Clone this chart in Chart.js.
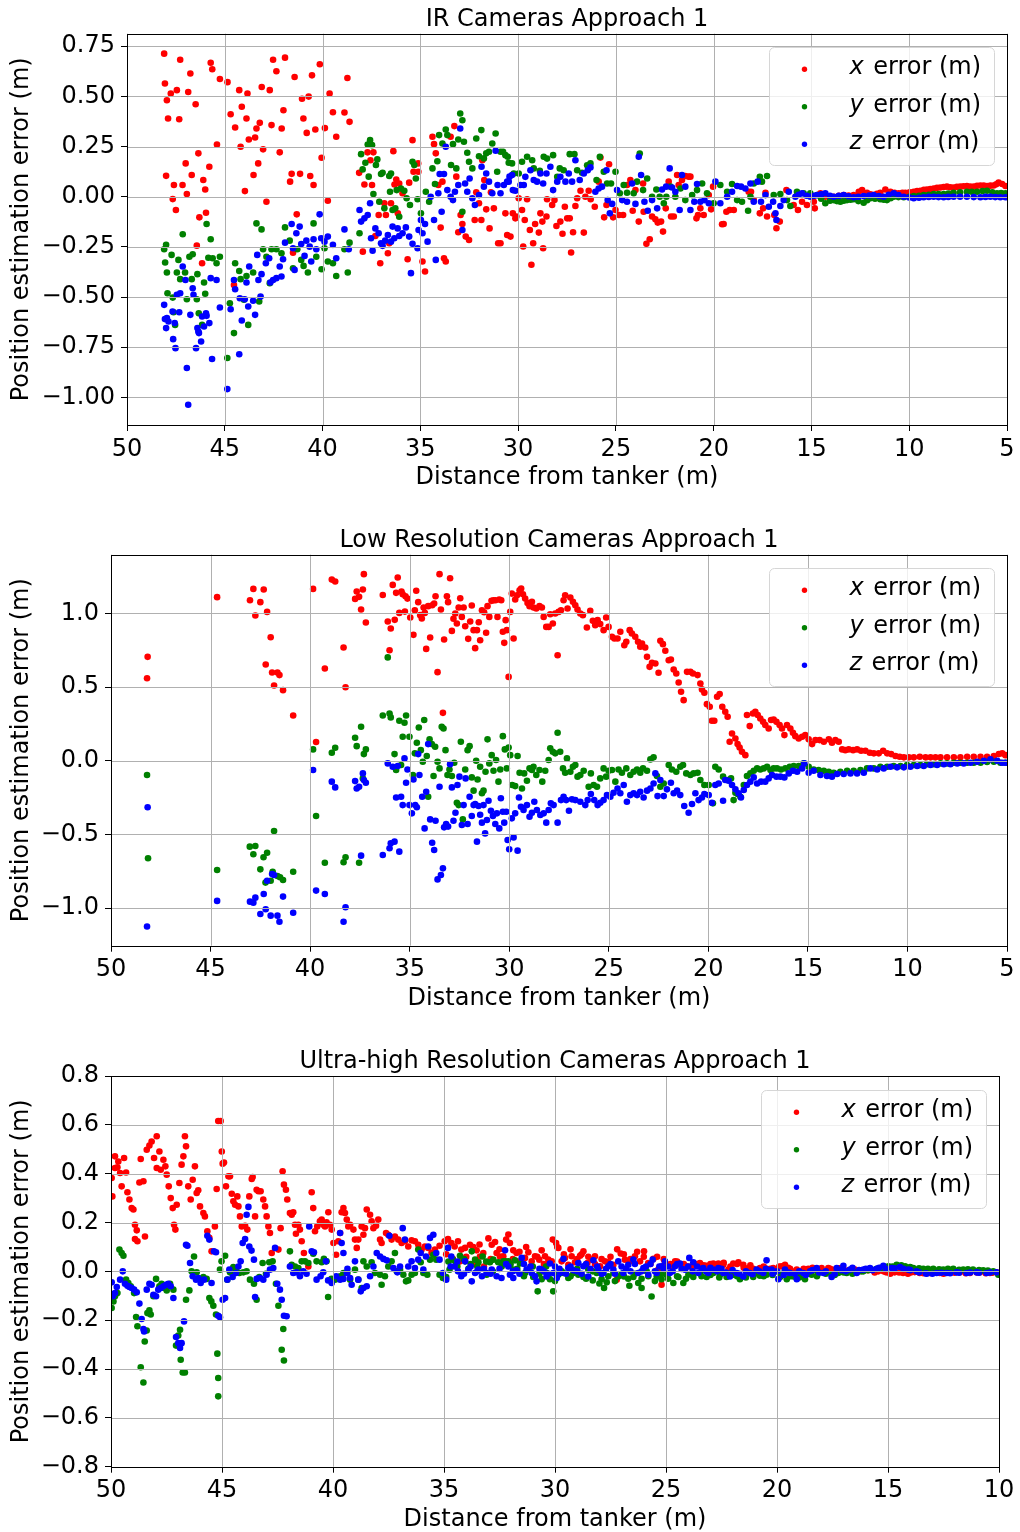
<!DOCTYPE html>
<html>
<head>
<meta charset="utf-8">
<script src="https://cdn.jsdelivr.net/npm/chart.js@4.4.1/dist/chart.umd.min.js"></script>
<style>
body{margin:0;background:#fff;}
.box{position:absolute;left:0;width:1020px;}
</style>
</head>
<body>
<div class="box" style="top:0;height:500px"><canvas id="c1"></canvas></div>
<div class="box" style="top:520px;height:500px"><canvas id="c2"></canvas></div>
<div class="box" style="top:1040px;height:496px"><canvas id="c3"></canvas></div>
<script>
// [distance from tanker (m), error (m)]

// IR cameras
const irX = [[48.1,0.713],[48.06,0.564],[48.0,0.104],[47.96,0.481],[47.9,0.39],[47.76,0.514],[47.66,-0.012],[47.6,0.058],[47.5,-0.066],[47.45,0.531],[47.33,0.386],[47.28,0.683],[47.16,0.058],[47.0,0.166],[46.94,0.013],[46.87,0.522],[46.76,0.614],[46.69,0.108],[46.49,0.461],[46.43,-0.244],[46.35,0.216],[46.3,-0.103],[46.16,-0.332],[46.1,0.083],[46.0,0.036],[45.96,-0.08],[45.79,0.149],[45.72,0.668],[45.64,0.635],[45.4,0.26],[45.25,0.587],[44.86,0.571],[44.7,0.411],[44.53,-0.44],[44.47,0.345],[44.26,0.531],[44.19,0.249],[44.13,0.448],[43.97,0.028],[43.89,0.39],[43.84,0.514],[43.77,0.285],[43.53,0.108],[43.45,0.295],[43.38,0.34],[43.29,0.166],[43.21,0.368],[43.11,0.547],[43.04,0.236],[42.87,-0.025],[42.7,0.531],[42.61,0.357],[42.53,0.683],[42.36,0.625],[42.19,0.221],[42.09,0.34],[42.0,0.431],[41.92,0.693],[41.66,0.075],[41.58,0.114],[41.51,-0.279],[41.43,0.597],[41.32,-0.088],[41.15,0.114],[41.05,0.488],[40.98,0.39],[40.81,0.318],[40.71,0.499],[40.63,0.103],[40.54,0.605],[40.46,0.058],[40.37,0.335],[40.14,0.66],[40.05,0.194],[39.88,0.342],[39.73,-0.02],[39.64,0.514],[39.47,0.421],[39.3,0.299],[38.88,0.42],[38.73,0.592],[38.62,0.373],
[38.13,0.119],[37.94,-0.274],[37.86,0.061],[37.7,0.221],[37.55,0.182],[37.47,0.058],[37.4,0.221],[37.3,-0.196],[37.13,-0.091],[37.05,-0.332],[36.84,-0.033],[36.76,-0.091],[36.66,-0.282],[36.59,-0.232],[36.5,-0.033],[36.38,0.227],[36.32,0.061],[36.23,0.086],[36.15,-0.083],[36.08,0.066],[35.91,0.017],[35.65,-0.312],[35.57,0.07],[35.4,0.282],[35.35,0.124],[35.11,0.166],[35.1,0.124],[34.89,-0.323],[34.76,-0.373],[34.38,0.299],[34.3,0.262],[34.21,0.216],[34.08,0.058],[33.96,-0.154],[33.87,0.075],[33.79,-0.307],[33.7,-0.323],[33.45,0.299],[33.26,0.352],[33.16,0.1],[33.06,-0.177],[32.94,-0.091],[32.85,-0.136],[32.68,-0.199],[32.51,-0.216],[32.22,-0.116],[32.14,0.022],[32.0,-0.033],[31.88,-0.116],[31.83,0.182],[31.73,0.083],[31.63,-0.063],[31.46,-0.158],[31.39,0.022],[31.24,-0.058],[31.02,-0.232],[30.9,-0.232],[30.65,-0.083],[30.56,-0.191],[30.39,-0.199],[30.27,-0.083],[30.14,-0.108],
[30.09,-0.099],[29.97,-0.008],[29.8,-0.066],[29.74,-0.248],[29.66,-0.116],[29.54,-0.013],[29.4,-0.166],[29.32,-0.339],[29.23,-0.232],[29.13,-0.136],[28.94,-0.179],[28.86,-0.083],[28.76,-0.124],[28.72,-0.257],[28.55,-0.099],[28.52,-0.013],[28.26,-0.041],[28.14,-0.017],[28.04,-0.146],[27.84,-0.124],[27.73,-0.185],[27.61,-0.05],[27.49,-0.108],[27.36,-0.108],[27.29,-0.278],[27.19,-0.177],[27.07,-0.046],[26.98,-0.008],[26.81,0.03],[26.64,-0.179],[26.56,0.0],[26.39,0.03],[26.29,-0.013],[26.08,-0.05],[25.88,0.075],[25.79,0.195],[25.6,-0.103],[25.48,-0.041],[25.35,0.162],[25.14,-0.103],[25.02,-0.066],[24.84,-0.091],[24.63,-0.091],[24.43,0.058],[24.26,0.083],[24.14,-0.07],[24.0,0.033],[23.83,-0.124],[23.61,0.066],[23.58,-0.075],[23.44,-0.235],[23.27,-0.212],[23.15,-0.099],[22.98,-0.113],[22.86,-0.129],[22.69,-0.124],[22.59,-0.174],[22.45,-0.058],[22.3,0.075],[22.18,-0.099],[22.04,-0.099],[21.87,0.108],[21.79,0.058],[21.62,0.083],[21.45,0.103],[21.28,0.1],[21.19,0.1],[20.88,-0.108],[20.8,-0.091],[20.68,-0.058],[20.51,-0.091],[20.25,0.008],[20.13,-0.063],[20.03,0.05],[19.57,-0.137],[19.49,-0.136],[19.35,-0.075],[19.18,-0.066],[18.97,-0.066],[18.21,0.025],[18.09,0.025],[17.95,-0.017],[17.64,-0.083],[17.47,-0.058],[17.35,0.02],[17.27,-0.099],[16.9,-0.091],[16.79,-0.157],[16.62,-0.124],[16.28,0.033],[15.91,-0.041],[15.69,-0.066],[15.48,-0.025],[15.23,-0.041],[14.88,-0.025],[14.83,-0.058],[14.54,0.017],[14.29,0.0],[14.05,-0.005],[13.86,0.0],[13.6,0.004],[13.35,0.008],[13.1,0.006],[12.84,0.008],[12.58,0.025],[12.41,0.033],[12.16,0.02],[11.98,0.012],[11.82,0.008],[11.65,0.015],[11.48,0.02],[11.22,0.036],[10.96,0.025],[10.75,0.02],[10.54,0.017],[10.35,0.019],[10.2,0.02],[9.98,0.022],[9.77,0.025],[9.6,0.028],[9.43,0.03],[9.25,0.034],[9.09,0.036],[8.92,0.038],[8.75,0.041],[8.58,0.044],[8.41,0.046],[8.24,0.048],[8.07,0.05],[7.9,0.047],[7.73,0.046],[7.56,0.049],[7.39,0.05],[7.22,0.052],[7.05,0.053],[6.88,0.05],[6.7,0.05],[6.53,0.054],[6.36,0.056],[6.19,0.055],[6.02,0.053],[5.85,0.055],[5.68,0.056],[5.55,0.062],[5.43,0.07],[5.25,0.063],[5.08,0.053]];

const irY = [[48.1,-0.262],[48.05,-0.328],[48.0,-0.24],[47.96,-0.378],[47.93,-0.481],[47.72,-0.29],[47.66,-0.503],[47.62,-0.576],[47.54,-0.639],[47.45,-0.378],[47.37,-0.315],[47.28,-0.411],[47.15,-0.187],[47.03,-0.378],[46.94,-0.511],[46.81,-0.299],[46.69,-0.411],[46.64,-0.287],[46.43,-0.511],[46.4,-0.386],[46.33,-0.581],[46.16,-0.639],[46.06,-0.428],[46.0,-0.484],[45.93,-0.136],[45.84,-0.304],[45.72,-0.212],[45.62,-0.307],[45.42,-0.332],[45.25,-0.299],[44.87,-0.804],[44.74,-0.531],[44.53,-0.68],[44.47,-0.332],[44.26,-0.37],[44.19,-0.411],[44.02,-0.514],[43.89,-0.395],[43.8,-0.639],[43.55,-0.378],[43.38,-0.133],[43.24,-0.522],[43.12,-0.163],[43.04,-0.262],[42.87,-0.299],[42.7,-0.431],[42.61,-0.262],[42.36,-0.262],[42.1,-0.282],[41.92,-0.153],[41.68,-0.219],[41.51,-0.357],[41.29,-0.262],[41.09,-0.315],[40.97,-0.345],[40.75,-0.378],[40.46,-0.133],[40.32,-0.299],[40.05,-0.362],[39.9,-0.257],[39.73,-0.323],[39.47,-0.332],[39.3,-0.395],[38.88,-0.262],[38.71,-0.378],[38.62,-0.229],
[38.11,-0.182],[38.03,0.212],[37.95,0.136],[37.81,0.169],[37.69,0.26],[37.64,0.1],[37.57,0.282],[37.47,0.257],[37.4,0.013],[37.27,0.158],[37.2,0.186],[37.1,-0.025],[37.01,0.113],[36.93,0.119],[36.84,-0.058],[36.59,0.103],[36.55,0.025],[36.5,0.116],[36.42,-0.066],[36.28,-0.058],[36.21,0.033],[36.08,-0.1],[35.99,0.041],[35.82,0.03],[35.7,-0.008],[35.53,-0.041],[35.4,0.174],[35.31,0.158],[35.23,0.091],[35.14,-0.013],[34.97,-0.083],[34.72,0.025],[34.55,-0.025],[34.38,0.141],[34.25,0.063],[34.13,0.177],[34.04,0.307],[33.87,0.265],[33.7,0.335],[33.62,0.307],[33.43,0.158],[33.33,0.262],[33.16,0.141],[33.06,0.285],[32.96,0.415],[32.85,0.381],[32.85,-0.075],[32.77,0.274],[32.6,0.219],[32.51,0.174],[32.34,0.141],[32.14,0.29],[32.0,0.202],[31.88,0.332],[31.75,0.191],[31.63,0.216],[31.49,0.224],[31.32,0.265],[31.15,0.315],[31.07,0.124],[30.9,0.224],[30.77,0.224],[30.65,0.207],[30.53,0.199],[30.48,0.169],[30.31,0.166],[30.22,0.116],[29.97,0.116],[29.8,0.174],[29.54,0.199],[29.28,0.182],[29.2,0.141],[28.89,0.129],[28.69,0.199],[28.52,0.19],[28.21,0.207],[28.0,0.099],[27.87,0.141],[27.67,0.132],[27.36,0.212],[27.12,0.212],[26.98,0.132],[26.73,0.119],[26.47,0.157],[26.3,0.166],[25.99,0.083],[25.82,0.199],[25.62,0.124],[25.45,0.066],[25.25,0.066],[25.02,0.124],[24.8,0.017],[24.6,0.058],[24.43,0.02],[24.09,0.017],[23.92,0.075],[23.78,0.215],[23.61,0.033],[23.4,0.091],[23.15,0.0],[22.93,0.036],[22.76,0.0],[22.55,-0.033],[22.42,0.0],[22.21,0.05],[21.96,0.0],[21.7,0.041],[21.45,-0.017],[21.1,0.008],[20.85,0.033],[20.59,0.066],[20.34,0.017],[20.0,-0.033],[19.66,0.058],[19.31,0.025],[19.06,0.063],[18.8,-0.017],[18.55,-0.025],[18.24,-0.07],[18.12,0.0],[17.95,0.066],[17.64,0.099],[17.53,0.075],[17.27,0.103],[16.93,0.008],[16.59,0.013],[16.25,-0.017],[16.08,-0.046],[15.74,0.025],[15.4,0.017],[15.06,0.017],[14.71,0.008],[14.5,-0.01],[14.29,-0.033],[14.05,-0.02],[13.86,-0.017],[13.7,-0.022],[13.52,-0.025],[13.35,-0.02],[13.18,-0.017],[13.0,-0.015],[12.84,-0.013],[12.6,-0.022],[12.33,-0.03],[12.15,-0.018],[11.99,-0.008],[11.75,-0.01],[11.48,-0.013],[11.3,-0.015],[11.14,-0.017],[10.95,-0.008],[10.79,0.0],[10.55,-0.002],[10.28,-0.003],[10.0,0.0],[9.77,0.003],[9.5,0.005],[9.26,0.008],[9.0,0.01],[8.75,0.013],[8.5,0.013],[8.24,0.013],[8.0,0.016],[7.73,0.02],[7.4,0.022],[7.05,0.025],[6.8,0.025],[6.53,0.025],[6.25,0.028],[6.02,0.03],[5.75,0.022],[5.51,0.017],[5.3,0.018],[5.08,0.017]];

const irZ = [[48.1,-0.539],[48.06,-0.61],[48.0,-0.655],[47.96,-0.605],[47.88,-0.622],[47.67,-0.572],[47.64,-0.71],[47.56,-0.63],[47.52,-0.755],[47.45,-0.489],[47.33,-0.576],[47.28,-0.481],[47.15,-0.348],[47.01,-0.415],[46.94,-0.854],[46.87,-1.037],[46.76,-0.589],[46.64,-0.456],[46.6,-0.489],[46.47,-0.755],[46.4,-0.655],[46.35,-0.672],[46.32,-0.68],[46.21,-0.722],[46.16,-0.597],[46.06,-0.647],[45.96,-0.581],[45.93,-0.594],[45.79,-0.63],[45.72,-0.406],[45.65,-0.809],[45.42,-0.415],[45.25,-0.552],[44.87,-0.959],[44.7,-0.561],[44.53,-0.415],[44.47,-0.461],[44.26,-0.785],[44.23,-0.506],[44.13,-0.617],[43.98,-0.511],[43.89,-0.428],[43.8,-0.547],[43.75,-0.348],[43.55,-0.519],[43.45,-0.589],[43.34,-0.29],[43.28,-0.415],[43.17,-0.498],[43.12,-0.386],[42.9,-0.332],[42.73,-0.307],[42.67,-0.428],[42.53,-0.415],[42.36,-0.406],[42.19,-0.348],[42.1,-0.398],[42.02,-0.312],[41.92,-0.229],[41.58,-0.136],[41.51,-0.257],[41.43,-0.365],[41.34,-0.182],[41.17,-0.149],[41.09,-0.236],[40.92,-0.295],[40.83,-0.219],[40.66,-0.249],[40.58,-0.323],[40.46,-0.212],[40.32,-0.262],[40.15,-0.088],[40.07,-0.207],[39.9,-0.224],[39.73,-0.199],[39.47,-0.24],[39.3,-0.307],[38.88,-0.163],[38.66,-0.262],
[38.11,-0.066],[38.03,-0.124],[37.86,-0.108],[37.69,-0.091],[37.57,-0.033],[37.52,-0.207],[37.44,-0.269],[37.3,-0.158],[37.13,-0.182],[37.01,-0.232],[36.93,-0.245],[36.8,-0.219],[36.66,-0.191],[36.5,-0.224],[36.42,-0.149],[36.33,-0.207],[36.16,-0.158],[36.08,-0.196],[35.91,-0.182],[35.74,-0.153],[35.57,-0.199],[35.48,-0.381],[35.4,-0.235],[35.14,-0.257],[35.09,-0.166],[34.97,-0.116],[34.89,-0.182],[34.76,-0.136],[34.63,-0.224],[34.47,0.0],[34.3,-0.116],[34.21,-0.315],[34.08,0.017],[34.01,0.113],[33.91,-0.075],[33.79,0.113],[33.7,0.249],[33.62,0.033],[33.45,0.0],[33.33,-0.017],[33.23,0.025],[33.06,0.058],[32.96,0.34],[32.85,-0.166],[32.71,0.066],[32.6,0.025],[32.48,0.091],[32.34,-0.008],[32.21,-0.041],[32.0,0.008],[31.87,0.149],[31.75,0.05],[31.63,0.116],[31.49,0.075],[31.32,0.017],[31.15,0.229],[31.05,0.058],[30.9,0.017],[30.73,0.058],[30.56,0.075],[30.48,0.075],[30.44,0.1],[30.31,0.108],[30.27,0.033],[30.14,0.03],[29.88,0.058],[29.71,0.058],[29.63,0.099],[29.37,0.132],[29.2,0.083],[29.03,0.075],[28.86,0.116],[28.72,0.066],[28.55,0.116],[28.35,0.149],[28.21,0.033],[28.0,0.075],[27.84,0.099],[27.58,0.075],[27.41,0.116],[27.24,0.075],[27.07,0.182],[26.85,0.083],[26.64,0.116],[26.44,0.132],[26.3,0.146],[26.05,0.025],[25.88,0.041],[25.71,0.05],[25.48,0.132],[25.42,-0.017],[25.31,-0.083],[25.19,-0.036],[24.94,0.033],[24.68,-0.017],[24.43,-0.025],[24.17,0.066],[24.0,-0.036],[23.83,0.199],[23.71,0.108],[23.54,-0.025],[23.37,-0.07],[23.15,-0.017],[22.89,-0.058],[22.64,0.036],[22.43,0.05],[22.25,0.141],[22.13,0.046],[21.96,0.025],[21.74,-0.066],[21.62,0.108],[21.45,0.05],[21.19,-0.066],[20.99,-0.025],[20.85,0.063],[20.68,-0.025],[20.47,-0.017],[20.25,-0.033],[19.91,0.075],[19.66,-0.033],[19.31,0.0],[19.06,0.025],[18.8,0.053],[18.6,0.05],[18.38,0.041],[18.12,0.066],[17.95,-0.025],[17.75,0.075],[17.58,-0.025],[17.35,0.008],[17.18,-0.05],[16.96,-0.025],[16.84,-0.083],[16.79,-0.116],[16.59,-0.046],[16.42,-0.017],[16.16,0.025],[15.82,0.0],[15.65,0.01],[15.48,0.017],[15.25,0.005],[15.06,0.0],[14.88,0.004],[14.71,0.008],[14.5,0.012],[14.29,0.017],[14.05,0.005],[13.86,0.0],[13.6,0.004],[13.35,0.008],[13.1,0.002],[12.84,-0.003],[12.6,0.0],[12.33,0.003],[12.05,0.006],[11.82,0.008],[11.55,0.003],[11.31,0.0],[11.05,0.01],[10.79,0.017],[10.55,0.008],[10.28,0.0],[10.0,-0.004],[9.77,-0.008],[9.5,-0.005],[9.26,-0.003],[9.0,-0.001],[8.75,0.0],[8.5,-0.002],[8.24,-0.003],[8.0,-0.001],[7.73,0.0],[7.4,0.0],[7.05,0.0],[6.7,-0.002],[6.36,-0.003],[6.1,-0.001],[5.85,0.0],[5.6,-0.002],[5.34,-0.003],[5.08,-0.003]];

// Low resolution cameras
const lowX = [[48.16,0.705],[48.19,0.56],[44.67,1.11],[43.02,1.089],[42.85,1.166],[42.75,0.985],[42.5,1.076],[42.33,1.162],[42.23,0.653],[42.16,1.01],[41.98,0.838],[41.91,0.599],[41.81,0.511],[41.64,0.599],[41.54,0.581],[41.36,0.479],[40.85,0.307],[39.85,1.166],[39.7,0.127],[39.26,0.626],[38.91,1.229],[38.74,1.216],[38.32,0.768],[38.22,0.499],[37.74,1.098],[37.66,1.148],[37.54,1.112],[37.44,1.026],[37.35,1.162],[37.3,1.266],[37.2,0.938],[36.35,1.125],[36.1,0.945],[36.01,0.75],[35.95,0.897],[35.85,1.193],[35.75,0.956],[35.68,1.139],[35.6,1.243],[35.52,1.003],[35.41,1.148],[35.35,1.13],[35.24,1.012],[35.21,1.116],[35.11,1.1],[34.97,0.972],[34.81,0.854],[34.74,1.021],[34.67,1.153],[34.57,1.076],[34.47,0.988],[34.39,0.965],[34.3,1.04],[34.24,1.003],[34.17,0.759],[34.07,1.049],[33.97,0.836],[33.87,1.055],[33.77,1.067],[33.7,1.116],[33.6,0.601],[33.5,1.266],[33.43,1.026],[33.33,0.325],[33.27,0.823],[33.13,1.116],[33.07,1.076],[32.97,1.238],[32.88,0.881],[32.8,0.963],[32.71,0.999],[32.63,0.931],[32.54,1.04],[32.46,1.103],[32.38,0.976],[32.29,1.04],[32.21,0.913],[32.06,0.827],[31.96,0.945],[31.88,1.053],[31.79,0.886],[31.71,0.764],[31.62,0.886],[31.53,0.94],[31.46,0.818],[31.37,1.021],[31.26,1.008],[31.16,0.868],[31.09,1.049],[31.0,0.976],[30.89,1.085],[30.79,1.089],[30.69,1.089],[30.59,0.976],[30.5,1.094],[30.4,1.089],[30.32,0.875],[30.25,0.8],[30.18,0.954],[30.12,0.886],[30.03,0.569],[29.95,1.01],[29.87,1.134],[29.78,0.829],[29.7,1.094],[29.61,1.123],[29.48,1.157],[29.4,1.168],[29.31,1.13],[29.2,1.101],[29.08,1.071],[28.98,1.049],[28.86,1.078],[28.78,1.04],[28.64,1.033],[28.48,1.049],[28.36,1.04],[28.27,0.976],[28.14,0.908],[28.02,0.908],[27.94,0.994],[27.81,0.931],[27.69,0.999],[27.57,0.716],[27.52,1.01],[27.4,1.021],[27.27,1.089],[27.19,1.123],[27.07,1.033],[26.93,1.107],[26.8,1.078],[26.68,1.055],[26.57,1.026],[26.43,0.999],[26.3,0.988],[26.1,0.904],[25.93,1.017],[25.8,0.949],[25.68,0.92],[25.56,0.954],[25.43,0.927],[25.26,0.886],[25.13,0.972],[25.01,0.908],[24.84,0.841],[24.72,0.829],[24.56,0.829],[24.42,0.875],[24.22,0.784],[24.12,0.807],[23.95,0.886],[23.84,0.863],[23.67,0.841],[23.53,0.807],[23.42,0.773],[23.33,0.795],[23.17,0.768],[23.08,0.705],[22.95,0.637],[22.83,0.664],[22.66,0.66],[22.5,0.597],[22.41,0.814],[22.28,0.791],[22.16,0.746],[21.99,0.682],[21.88,0.687],[21.74,0.619],[21.61,0.592],[21.49,0.531],[21.37,0.468],[21.24,0.411],[21.07,0.603],[20.9,0.603],[20.77,0.592],[20.54,0.581],[20.4,0.524],[20.32,0.484],[20.2,0.461],[20.07,0.384],[19.93,0.366],[19.82,0.271],[19.7,0.271],[19.56,0.434],[19.43,0.452],[19.3,0.366],[19.15,0.332],[19.03,0.298],[18.93,0.129],[18.81,0.185],[18.64,0.151],[18.53,0.113],[18.43,0.09],[18.31,0.061],[18.14,0.038],[18.06,0.31],[17.92,0.235],[17.76,0.321],[17.64,0.332],[17.52,0.31],[17.39,0.287],[17.25,0.264],[17.14,0.242],[16.97,0.219],[16.85,0.276],[16.72,0.28],[16.58,0.264],[16.42,0.242],[16.3,0.219],[16.18,0.174],[16.05,0.242],[15.88,0.219],[15.75,0.19],[15.63,0.167],[15.46,0.151],[15.29,0.163],[15.13,0.174],[14.96,0.145],[14.79,0.113],[14.62,0.14],[14.41,0.14],[14.2,0.129],[13.95,0.145],[13.79,0.122],[13.62,0.14],[13.45,0.129],[13.28,0.077],[13.12,0.072],[12.95,0.077],[12.73,0.072],[12.53,0.077],[12.33,0.068],[12.11,0.068],[11.89,0.054],[11.69,0.05],[11.44,0.05],[11.22,0.068],[11.02,0.05],[10.82,0.045],[10.6,0.032],[10.39,0.027],[10.18,0.023],[9.93,0.023],[9.68,0.023],[9.38,0.027],[9.09,0.023],[8.84,0.023],[8.59,0.023],[8.34,0.023],[8.01,0.023],[7.67,0.023],[7.34,0.023],[7.0,0.027],[6.67,0.027],[6.33,0.027],[6.0,0.027],[5.66,0.032],[5.41,0.045],[5.24,0.05],[5.08,0.038]];

const lowY = [[48.19,-0.097],[48.14,-0.662],[44.67,-0.741],[43.03,-0.583],[42.85,-0.635],[42.75,-0.579],[42.5,-0.737],[42.34,-0.655],[42.24,-0.827],[42.16,-0.624],[41.98,-0.814],[41.88,-0.753],[41.81,-0.477],[41.64,-0.782],[41.51,-0.791],[41.36,-0.809],[40.85,-0.753],[39.85,0.077],[39.7,-0.375],[39.26,-0.692],[38.91,0.054],[38.74,0.088],[38.32,-0.689],[38.22,-0.655],[37.74,0.156],[37.66,0.099],[37.54,-0.692],[37.44,0.231],[37.35,-0.12],[37.3,0.045],[37.2,0.077],[36.35,0.307],[36.1,0.701],[36.01,0.321],[35.95,0.294],[35.76,0.045],[35.68,-0.063],[35.52,0.271],[35.43,-0.029],[35.35,0.163],[35.26,0.258],[35.18,0.307],[35.01,0.163],[34.84,-0.097],[34.74,0.05],[34.64,0.122],[34.54,0.226],[34.44,0.072],[34.34,-0.007],[34.27,0.276],[34.14,0.032],[34.07,-0.244],[34.0,0.145],[33.89,0.113],[33.8,-0.104],[33.72,0.095],[33.6,-0.007],[33.5,-0.052],[33.39,0.231],[33.3,0.219],[33.2,0.072],[33.1,-0.097],[33.0,-0.059],[32.88,-0.104],[32.76,-0.014],[32.63,-0.285],[32.54,-0.301],[32.43,0.129],[32.33,-0.398],[32.21,-0.059],[32.09,0.072],[31.99,0.099],[31.88,-0.113],[31.79,-0.203],[31.66,0.0],[31.59,-0.127],[31.46,-0.041],[31.37,-0.221],[31.29,-0.203],[31.19,-0.075],[31.09,0.145],[31.0,-0.018],[30.88,0.038],[30.79,-0.068],[30.66,0.005],[30.54,-0.142],[30.45,-0.059],[30.32,0.167],[30.22,0.077],[30.12,-0.052],[30.03,0.09],[29.95,0.038],[29.85,-0.165],[29.7,-0.172],[29.58,0.032],[29.48,-0.081],[29.36,-0.188],[29.25,-0.086],[29.11,-0.136],[28.98,-0.052],[28.86,-0.063],[28.78,-0.041],[28.64,-0.097],[28.48,-0.063],[28.34,-0.142],[28.19,-0.068],[28.02,0.005],[27.94,0.084],[27.81,0.061],[27.69,0.05],[27.57,0.19],[27.44,0.061],[27.3,-0.052],[27.19,-0.081],[27.1,0.016],[26.93,-0.075],[26.8,-0.041],[26.68,-0.029],[26.57,-0.108],[26.43,-0.097],[26.26,-0.068],[26.01,-0.176],[25.9,-0.086],[25.76,-0.165],[25.59,-0.176],[25.43,-0.12],[25.26,-0.052],[25.13,-0.108],[25.01,-0.068],[24.84,-0.063],[24.67,-0.142],[24.51,-0.059],[24.34,-0.081],[24.12,-0.052],[23.92,-0.097],[23.75,-0.075],[23.58,-0.059],[23.42,-0.081],[23.28,-0.052],[23.08,-0.068],[22.91,0.009],[22.75,0.023],[22.58,-0.104],[22.41,-0.176],[22.24,-0.154],[21.99,-0.029],[21.83,-0.059],[21.61,-0.075],[21.41,-0.041],[21.27,-0.029],[21.11,-0.086],[20.9,-0.097],[20.74,-0.086],[20.54,-0.081],[20.4,-0.131],[20.2,-0.165],[19.98,-0.165],[19.77,-0.289],[19.65,-0.041],[19.48,-0.059],[19.26,-0.108],[19.06,-0.131],[18.86,-0.12],[18.73,-0.267],[18.64,-0.217],[18.53,-0.226],[18.39,-0.244],[18.22,-0.165],[18.06,-0.104],[17.89,-0.086],[17.72,-0.068],[17.55,-0.052],[17.39,-0.059],[17.22,-0.052],[17.05,-0.041],[16.88,-0.063],[16.72,-0.052],[16.55,-0.052],[16.35,-0.059],[16.13,-0.052],[15.91,-0.041],[15.71,-0.036],[15.46,-0.036],[15.21,-0.018],[14.96,-0.041],[14.71,-0.059],[14.46,-0.063],[14.2,-0.068],[13.95,-0.075],[13.7,-0.081],[13.37,-0.075],[13.03,-0.068],[12.7,-0.068],[12.36,-0.063],[12.03,-0.052],[11.69,-0.052],[11.36,-0.041],[11.02,-0.041],[10.69,-0.036],[10.35,-0.036],[10.02,-0.029],[9.68,-0.029],[9.35,-0.029],[9.01,-0.023],[8.68,-0.023],[8.34,-0.018],[8.01,-0.018],[7.67,-0.014],[7.34,-0.014],[7.0,-0.014],[6.67,-0.014],[6.33,-0.014],[6.0,-0.009],[5.66,-0.007],[5.33,-0.014],[5.08,-0.014]];

const lowZ = [[48.16,-0.316],[48.19,-1.125],[44.67,-0.951],[43.02,-0.956],[42.85,-0.963],[42.75,-0.929],[42.5,-1.04],[42.33,-0.904],[42.23,-1.008],[42.16,-0.814],[41.98,-1.051],[41.91,-0.768],[41.81,-0.775],[41.64,-1.051],[41.54,-1.092],[41.36,-0.922],[40.85,-1.031],[39.85,-0.063],[39.7,-0.881],[39.26,-0.904],[38.91,-0.142],[38.74,-0.181],[38.32,-1.092],[38.22,-0.994],[37.74,-0.138],[37.66,-0.188],[37.54,-0.176],[37.44,-0.644],[37.35,-0.086],[37.3,-0.131],[37.2,-0.149],[36.35,-0.64],[36.1,-0.018],[36.01,-0.594],[35.95,-0.56],[35.85,-0.041],[35.76,-0.549],[35.68,-0.249],[35.6,-0.036],[35.52,-0.617],[35.43,-0.244],[35.35,-0.301],[35.26,0.016],[35.18,-0.149],[35.11,-0.059],[35.01,-0.301],[34.89,-0.357],[34.81,-0.127],[34.72,-0.301],[34.64,-0.316],[34.57,0.045],[34.51,-0.097],[34.37,-0.244],[34.25,-0.459],[34.17,-0.21],[34.07,0.113],[33.97,-0.398],[33.87,-0.556],[33.77,-0.606],[33.7,-0.407],[33.6,-0.805],[33.5,-0.176],[33.43,-0.775],[33.33,-0.73],[33.27,-0.452],[33.17,-0.429],[33.07,-0.447],[32.97,-0.023],[32.88,-0.181],[32.8,-0.407],[32.7,-0.353],[32.6,-0.165],[32.5,-0.108],[32.38,-0.436],[32.29,-0.301],[32.19,-0.12],[32.09,-0.429],[31.99,-0.244],[31.88,-0.375],[31.79,-0.301],[31.71,-0.294],[31.62,-0.549],[31.54,-0.307],[31.46,-0.366],[31.37,-0.42],[31.29,-0.301],[31.21,-0.493],[31.12,-0.402],[31.04,-0.271],[30.92,-0.339],[30.82,-0.375],[30.7,-0.429],[30.62,-0.357],[30.5,-0.459],[30.42,-0.255],[30.32,-0.346],[30.25,-0.42],[30.15,-0.346],[30.08,-0.538],[30.0,-0.601],[29.87,-0.391],[29.78,-0.52],[29.7,-0.357],[29.58,-0.61],[29.51,-0.249],[29.41,-0.312],[29.28,-0.334],[29.11,-0.301],[28.98,-0.38],[28.86,-0.353],[28.74,-0.278],[28.61,-0.334],[28.44,-0.368],[28.27,-0.357],[28.14,-0.42],[28.02,-0.334],[27.91,-0.289],[27.77,-0.301],[27.57,-0.42],[27.4,-0.267],[27.27,-0.244],[27.14,-0.267],[27.0,-0.339],[26.85,-0.262],[26.68,-0.267],[26.43,-0.278],[26.18,-0.301],[26.06,-0.267],[25.9,-0.226],[25.73,-0.267],[25.56,-0.301],[25.43,-0.285],[25.26,-0.267],[25.09,-0.233],[24.92,-0.244],[24.76,-0.217],[24.56,-0.188],[24.42,-0.221],[24.25,-0.165],[24.09,-0.278],[23.92,-0.233],[23.75,-0.221],[23.58,-0.233],[23.42,-0.21],[23.25,-0.249],[23.08,-0.203],[22.91,-0.188],[22.75,-0.154],[22.66,-0.086],[22.55,-0.24],[22.41,-0.131],[22.24,-0.24],[22.08,-0.194],[21.88,-0.149],[21.74,-0.221],[21.57,-0.203],[21.41,-0.233],[21.21,-0.307],[20.99,-0.353],[20.82,-0.294],[20.65,-0.221],[20.49,-0.267],[20.32,-0.249],[20.2,-0.226],[19.98,-0.233],[19.82,-0.285],[19.65,-0.165],[19.48,-0.154],[19.26,-0.271],[19.15,-0.131],[18.98,-0.136],[18.81,-0.165],[18.64,-0.194],[18.48,-0.221],[18.36,-0.249],[18.22,-0.199],[18.06,-0.165],[17.89,-0.142],[17.72,-0.113],[17.55,-0.154],[17.35,-0.142],[17.14,-0.142],[16.97,-0.12],[16.8,-0.097],[16.58,-0.108],[16.38,-0.108],[16.18,-0.113],[15.96,-0.086],[15.75,-0.068],[15.54,-0.075],[15.29,-0.052],[15.18,-0.018],[14.96,-0.081],[14.71,-0.068],[14.37,-0.097],[14.04,-0.104],[13.79,-0.108],[13.53,-0.09],[13.2,-0.09],[12.86,-0.086],[12.53,-0.086],[12.19,-0.081],[11.86,-0.052],[11.52,-0.059],[11.19,-0.052],[10.85,-0.041],[10.52,-0.045],[10.18,-0.045],[9.85,-0.041],[9.51,-0.036],[9.18,-0.036],[8.84,-0.029],[8.51,-0.029],[8.17,-0.023],[7.84,-0.023],[7.5,-0.018],[7.17,-0.018],[6.83,-0.014],[6.5,-0.007],[6.16,0.0],[5.83,0.009],[5.49,0.0],[5.24,-0.014],[5.08,-0.014]];

// Ultra-high resolution cameras
const uhX = [[49.97,0.382],[49.94,0.307],[49.82,0.423],[49.82,0.471],[49.71,0.426],[49.67,0.45],[49.59,0.403],[49.52,0.348],[49.41,0.464],[49.32,0.405],[49.26,0.324],[49.17,0.294],[49.07,0.259],[48.99,0.253],[48.92,0.191],[48.92,0.132],[48.84,0.168],[48.81,0.123],[48.72,0.364],[48.66,0.46],[48.54,0.369],[48.47,0.143],[48.39,0.498],[48.27,0.515],[48.17,0.532],[48.06,0.464],[47.94,0.553],[47.94,0.423],[47.82,0.491],[47.76,0.416],[47.64,0.457],[47.55,0.43],[47.49,0.396],[47.4,0.348],[47.31,0.3],[47.22,0.259],[47.16,0.191],[47.1,0.171],[47.04,0.273],[46.92,0.362],[46.82,0.437],[46.74,0.471],[46.67,0.553],[46.62,0.512],[46.52,0.348],[46.41,0.294],[46.32,0.375],[46.22,0.43],[46.14,0.321],[46.07,0.332],[45.99,0.266],[45.84,0.239],[45.77,0.225],[45.66,0.164],[45.57,0.137],[45.47,0.082],[45.32,0.184],[45.24,0.337],[45.17,0.616],[45.06,0.616],[45.01,0.491],[44.97,0.441],[44.91,0.446],[44.82,0.348],[44.71,0.389],[44.64,0.389],[44.56,0.318],[44.49,0.287],[44.41,0.273],[44.31,0.307],[44.26,0.266],[44.19,0.225],[44.11,0.184],[43.96,0.187],[43.86,0.171],[43.77,0.307],[43.66,0.378],[43.62,0.386],[43.51,0.225],[43.44,0.334],[43.36,0.328],[43.26,0.328],[43.14,0.294],[43.06,0.266],[42.99,0.225],[42.91,0.184],[42.84,0.157],[42.76,0.075],[42.46,0.089],[42.36,0.177],[42.27,0.41],[42.21,0.355],[42.12,0.334],[42.06,0.294],[41.94,0.239],[41.86,0.232],[41.79,0.242],[41.71,0.191],[41.67,0.154],[41.56,0.191],[41.49,0.171],[41.41,0.123],[41.31,0.075],[41.11,0.02],[40.96,0.324],[40.89,0.259],[40.81,0.164],[40.71,0.184],[40.59,0.205],[40.51,0.212],[40.44,0.191],[40.36,0.184],[40.29,0.201],[40.21,0.242],[40.14,0.191],[40.06,0.171],[39.98,0.116],[39.86,0.068],[39.76,0.123],[39.68,0.157],[39.61,0.242],[39.53,0.259],[39.46,0.239],[39.38,0.212],[39.31,0.184],[39.23,0.191],[39.08,0.171],[39.01,0.13],[38.93,0.096],[38.86,0.13],[38.71,0.184],[38.63,0.15],[38.56,0.177],[38.48,0.253],[38.33,0.232],[38.26,0.205],[38.18,0.177],[38.06,0.187],[37.96,0.212],[37.88,0.13],[37.81,0.116],[37.61,0.157],[37.51,0.15],[37.36,0.13],[37.21,0.143],[37.06,0.13],[36.91,0.116],[36.76,0.123],[36.61,0.102],[36.46,0.127],[36.31,0.123],[36.16,0.109],[36.01,0.089],[35.86,0.102],[35.71,0.096],[35.56,0.075],[35.41,0.089],[35.2,0.105],[34.97,0.123],[34.82,0.132],[34.67,0.116],[34.52,0.102],[34.37,0.123],[34.22,0.089],[34.05,0.096],[33.83,0.109],[33.68,0.1],[33.53,0.086],[33.38,0.061],[33.23,0.075],[33.0,0.135],[32.85,0.109],[32.63,0.075],[32.48,0.061],[32.33,0.062],[32.25,0.041],[32.1,0.151],[32.03,0.116],[31.88,0.086],[31.73,0.075],[31.58,0.041],[31.35,0.055],[31.2,0.078],[31.05,0.041],[30.9,0.062],[30.71,0.048],[30.6,0.086],[30.45,0.062],[30.3,0.048],[30.15,0.041],[29.95,0.116],[29.85,0.096],[29.7,0.041],[29.55,0.055],[29.4,0.027],[29.25,0.062],[29.1,0.037],[28.87,0.064],[28.72,0.082],[28.54,0.034],[28.35,0.048],[28.2,0.062],[27.97,0.021],[27.75,0.041],[27.6,0.037],[27.37,0.027],[27.22,-0.034],[27.04,0.073],[26.85,0.048],[26.62,0.041],[26.4,0.062],[26.17,0.041],[25.99,0.082],[25.8,0.034],[25.57,0.051],[25.35,0.007],[25.2,-0.055],[25.05,0.034],[24.83,0.021],[24.59,0.041],[24.37,0.027],[24.07,0.021],[23.77,0.023],[23.47,0.034],[23.17,0.023],[22.87,0.032],[22.64,0.032],[22.42,0.027],[22.19,0.007],[21.97,0.032],[21.74,0.037],[21.52,0.027],[21.29,0.014],[21.07,0.01],[20.77,0.014],[20.47,0.01],[20.17,0.014],[19.79,0.021],[19.64,0.027],[19.41,0.01],[19.11,0.007],[18.89,0.0],[18.59,0.01],[18.29,0.007],[17.99,0.014],[17.69,0.014],[17.39,0.007],[17.09,0.01],[16.79,0.004],[16.49,0.007],[16.19,0.004],[15.81,0.007],[15.44,0.0],[15.08,-0.004],[14.7,-0.004],[14.32,-0.007],[13.95,-0.004],[13.57,-0.007],[13.12,-0.007],[12.67,-0.007],[12.21,-0.004],[11.76,-0.004],[11.31,-0.007],[10.86,-0.004],[10.41,-0.007],[10.11,-0.004]];
// denser band of points between 35 m and 10 m
const uhXBand = [[34.9,0.07],[34.6,0.05],[34.3,0.04],[34.0,0.06],[33.7,0.03],[33.4,0.11],[33.2,0.02],[32.9,0.05],[32.7,0.12],[32.5,0.09],[32.2,0.13],[31.9,0.05],[31.6,0.08],[31.3,0.1],[31.1,0.02],[30.8,0.06],[30.5,0.03],[30.1,0.13],[29.9,0.1],[29.6,0.07],[29.3,0.09],[29.0,0.05],[28.8,0.07],[28.5,0.06],[28.2,0.03],[27.9,0.05],[27.5,0.06],[27.2,0.09],[26.9,0.07],[26.6,0.05],[26.3,0.08],[26.0,0.06],[25.7,0.03],[25.4,0.06],[25.1,0.05],[24.8,0.03],[24.5,0.04],[24.2,0.03],[23.9,0.02],[23.6,0.03],[23.3,0.025],[23.0,0.03],[22.7,0.02],[22.4,0.035],[22.1,0.02],[21.8,0.03],[21.5,0.015],[21.2,0.025],[20.9,0.005],[20.6,0.02],[20.3,0.01],[19.9,0.02],[19.5,0.015],[19.2,0.0],[18.8,0.01],[18.4,0.015],[18.0,0.005],[17.6,0.01],[17.2,0.012],[16.9,0.0],[16.6,0.01],[16.3,0.0],[15.9,0.005],[15.6,-0.005],[15.2,0.0],[14.9,-0.01],[14.5,-0.005],[14.1,-0.01],[13.8,-0.003],[13.4,-0.008],[13.0,-0.005],[12.5,-0.01],[12.0,-0.006],[11.5,-0.008],[11.0,-0.005],[10.6,-0.008],[10.3,-0.006]];

const uhY = [[49.97,-0.15],[49.89,-0.123],[49.82,-0.102],[49.71,-0.089],[49.62,0.089],[49.52,0.075],[49.44,0.064],[49.32,-0.034],[49.22,-0.048],[49.11,-0.061],[48.96,-0.089],[48.87,-0.187],[48.81,-0.225],[48.66,-0.393],[48.54,-0.455],[48.48,-0.287],[48.39,-0.242],[48.36,-0.171],[48.27,-0.16],[48.21,-0.177],[48.09,-0.102],[47.97,-0.031],[47.82,-0.061],[47.72,-0.051],[47.61,-0.068],[47.49,-0.078],[47.34,-0.051],[47.19,-0.075],[47.07,-0.304],[46.97,-0.263],[46.89,-0.239],[46.86,-0.362],[46.77,-0.414],[46.67,-0.414],[46.62,-0.116],[46.47,-0.078],[46.37,0.0],[46.26,0.061],[46.14,-0.004],[46.02,-0.031],[45.84,-0.023],[45.69,-0.031],[45.57,-0.109],[45.48,-0.123],[45.39,-0.141],[45.27,-0.177],[45.21,-0.337],[45.17,-0.437],[45.17,-0.512],[45.09,0.007],[45.02,0.041],[44.86,0.064],[44.76,-0.034],[44.64,-0.004],[44.49,0.018],[44.37,0.007],[44.22,-0.007],[44.04,-0.004],[43.89,0.0],[43.74,-0.034],[43.56,-0.051],[43.44,-0.116],[43.32,-0.023],[43.17,0.034],[43.02,-0.01],[42.87,0.037],[42.72,0.041],[42.57,-0.051],[42.46,-0.141],[42.31,-0.321],[42.24,-0.236],[42.21,-0.365],[41.94,0.082],[41.86,0.027],[41.71,0.02],[41.56,0.014],[41.41,0.041],[41.26,0.041],[41.11,0.034],[40.89,0.072],[40.74,0.041],[40.51,0.037],[40.41,0.051],[40.29,0.041],[40.22,-0.105],[40.07,-0.031],[39.91,-0.034],[39.68,-0.02],[39.53,-0.007],[39.35,-0.007],[39.23,-0.034],[39.01,0.007],[38.86,-0.034],[38.71,-0.068],[38.63,0.041],[38.48,0.02],[38.26,0.037],[38.11,-0.007],[37.88,-0.014],[37.81,-0.055],[37.66,-0.02],[37.51,0.02],[37.36,0.041],[37.21,0.075],[37.13,0.0],[36.98,0.007],[36.83,-0.014],[36.71,-0.041],[36.61,-0.037],[36.46,-0.014],[36.31,-0.007],[36.16,0.089],[36.05,0.037],[35.93,-0.007],[35.75,-0.014],[35.63,0.048],[35.48,0.068],[35.35,0.048],[35.2,-0.014],[35.05,-0.027],[34.9,-0.023],[34.75,0.007],[34.6,0.048],[34.46,0.034],[34.28,0.064],[34.05,0.041],[33.9,0.01],[33.75,0.082],[33.6,0.048],[33.45,0.037],[33.26,0.061],[33.08,-0.014],[32.93,0.037],[32.78,0.048],[32.56,0.037],[32.33,0.041],[32.25,0.041],[32.1,0.041],[32.03,0.027],[31.88,0.007],[31.8,0.045],[31.58,0.032],[31.35,-0.007],[31.2,0.007],[30.98,-0.023],[30.78,-0.082],[30.6,-0.032],[30.38,-0.007],[30.23,-0.032],[30.08,-0.082],[29.85,-0.014],[29.62,-0.007],[29.4,-0.027],[29.17,-0.007],[28.95,-0.014],[28.72,-0.023],[28.5,0.007],[28.3,-0.037],[28.12,-0.007],[27.9,-0.032],[27.79,-0.068],[27.67,-0.045],[27.37,-0.007],[27.15,-0.021],[26.89,-0.021],[26.65,-0.059],[26.47,-0.023],[26.25,-0.048],[26.1,-0.068],[25.87,0.0],[25.65,-0.103],[25.42,-0.021],[25.2,-0.032],[24.97,-0.014],[24.67,-0.048],[24.44,-0.023],[24.22,-0.048],[23.99,-0.014],[23.77,-0.023],[23.47,-0.007],[23.17,-0.023],[22.87,-0.007],[22.57,-0.014],[22.27,-0.023],[21.97,-0.014],[21.67,-0.032],[21.37,-0.014],[21.07,-0.023],[20.77,-0.018],[20.47,-0.014],[20.17,-0.007],[19.86,-0.023],[19.56,-0.032],[19.26,-0.021],[18.96,-0.014],[18.74,-0.032],[18.44,-0.014],[18.14,-0.007],[17.84,-0.007],[17.54,-0.014],[17.24,-0.007],[16.86,-0.007],[16.49,-0.004],[16.11,0.0],[15.74,0.007],[15.36,0.014],[14.98,0.021],[14.61,0.027],[14.23,0.021],[13.86,0.014],[13.41,0.01],[12.96,0.01],[12.51,0.007],[12.06,0.01],[11.61,0.007],[11.17,0.007],[10.71,0.004],[10.26,0.0],[10.03,-0.014]];
const uhYBand = [[34.8,0.04],[34.4,0.02],[34.1,0.05],[33.8,0.03],[33.5,0.02],[33.1,0.04],[32.8,0.0],[32.4,0.02],[32.0,0.03],[31.7,0.01],[31.4,-0.02],[31.0,0.02],[30.7,-0.01],[30.4,0.02],[30.0,-0.04],[29.7,0.0],[29.3,-0.02],[29.0,0.01],[28.6,-0.03],[28.3,0.0],[28.0,-0.05],[27.6,-0.02],[27.3,-0.04],[27.0,-0.01],[26.7,-0.03],[26.4,-0.01],[26.1,-0.03],[25.8,-0.02],[25.5,-0.04],[25.2,-0.01],[24.9,-0.03],[24.5,-0.02],[24.1,-0.03],[23.8,-0.01],[23.4,-0.02],[23.0,-0.015],[22.6,-0.025],[22.2,-0.01],[21.8,-0.02],[21.4,-0.025],[21.0,-0.01],[20.6,-0.02],[20.2,-0.015],[19.8,-0.01],[19.4,-0.02],[19.0,-0.025],[18.6,-0.01],[18.2,-0.02],[17.8,-0.01],[17.4,-0.015],[17.0,-0.005],[16.6,-0.01],[16.2,0.0],[15.9,0.005],[15.5,0.01],[15.2,0.015],[14.8,0.02],[14.4,0.025],[14.0,0.018],[13.6,0.012],[13.2,0.01],[12.7,0.008],[12.3,0.01],[11.8,0.006],[11.4,0.008],[10.9,0.005],[10.5,0.003]];

const uhZ = [[49.97,-0.045],[49.92,-0.102],[49.82,-0.089],[49.74,-0.064],[49.59,-0.034],[49.47,0.0],[49.37,-0.051],[49.26,-0.059],[49.17,-0.064],[49.07,-0.068],[48.96,-0.075],[48.84,-0.086],[48.72,-0.132],[48.62,-0.195],[48.54,-0.236],[48.51,-0.246],[48.39,-0.075],[48.27,-0.051],[48.17,-0.055],[48.09,-0.096],[47.97,-0.102],[47.87,-0.075],[47.76,-0.068],[47.64,-0.061],[47.52,-0.055],[47.42,-0.051],[47.31,-0.061],[47.19,-0.109],[47.07,-0.269],[46.97,-0.294],[46.89,-0.314],[46.82,-0.294],[46.71,-0.205],[46.62,0.109],[46.56,0.105],[46.44,0.034],[46.32,-0.02],[46.17,-0.034],[46.07,-0.027],[45.96,-0.048],[45.81,-0.034],[45.66,0.146],[45.57,0.13],[45.47,-0.048],[45.36,0.082],[45.27,0.078],[45.17,-0.182],[45.09,-0.188],[44.97,-0.116],[44.86,-0.109],[44.76,-0.034],[44.67,0.007],[44.52,-0.023],[44.37,-0.007],[44.26,0.02],[44.16,0.041],[44.07,0.116],[43.96,0.132],[43.89,0.232],[43.81,0.264],[43.77,0.102],[43.67,0.085],[43.56,0.048],[43.51,-0.105],[43.44,-0.031],[43.29,-0.027],[43.14,-0.034],[42.99,-0.014],[42.84,0.007],[42.69,0.014],[42.61,0.096],[42.51,-0.051],[42.39,-0.075],[42.31,-0.116],[42.21,-0.182],[42.09,-0.184],[41.94,0.02],[41.79,-0.007],[41.64,-0.004],[41.49,-0.02],[41.34,0.0],[41.19,-0.01],[41.07,0.184],[40.96,0.082],[40.86,0.078],[40.74,-0.034],[40.56,-0.02],[40.44,-0.004],[40.32,0.041],[40.22,-0.037],[40.06,-0.048],[39.86,-0.02],[39.68,-0.034],[39.53,-0.031],[39.35,0.01],[39.68,0.157],[39.61,0.116],[39.53,0.075],[39.38,-0.007],[39.23,-0.027],[39.16,-0.055],[39.01,0.041],[38.86,-0.034],[38.75,-0.082],[38.63,-0.068],[38.48,-0.061],[38.33,-0.02],[38.18,0.02],[38.03,0.075],[37.88,0.061],[37.73,0.051],[37.58,0.045],[37.46,0.146],[37.28,0.014],[37.1,-0.004],[36.98,0.02],[36.86,0.177],[36.76,0.13],[36.61,0.02],[36.46,0.041],[36.31,0.014],[36.16,0.048],[36.05,0.075],[35.93,0.007],[35.81,0.061],[35.71,0.102],[35.63,0.137],[35.48,0.15],[35.35,0.075],[35.2,0.048],[35.05,-0.007],[34.9,-0.034],[34.82,0.096],[34.67,0.061],[34.52,0.02],[34.37,0.0],[34.22,-0.02],[34.05,0.041],[33.9,0.007],[33.75,-0.041],[33.6,-0.007],[33.45,0.007],[33.29,-0.02],[33.08,-0.007],[32.85,0.007],[32.63,-0.02],[32.41,-0.027],[32.25,0.086],[32.1,0.02],[32.03,-0.014],[31.88,-0.027],[31.73,0.004],[31.5,0.055],[31.28,0.007],[31.05,-0.007],[30.83,-0.041],[30.6,0.007],[30.38,-0.021],[30.23,0.032],[30.08,-0.007],[29.92,-0.027],[29.77,-0.007],[29.62,0.051],[29.4,0.014],[29.17,0.004],[28.95,0.034],[28.72,0.021],[28.5,-0.021],[28.27,0.045],[28.05,0.007],[27.82,-0.007],[27.6,0.021],[27.37,0.007],[27.15,0.041],[26.92,-0.007],[26.7,0.027],[26.47,0.048],[26.25,-0.007],[26.02,0.014],[25.8,-0.014],[25.6,0.048],[25.42,-0.007],[25.2,0.021],[25.05,0.041],[24.83,-0.007],[24.59,0.021],[24.37,0.032],[24.14,0.007],[23.95,0.055],[23.77,0.037],[23.54,-0.007],[23.32,0.014],[23.09,-0.007],[22.87,0.007],[22.64,0.014],[22.42,-0.007],[22.12,-0.021],[21.82,-0.007],[21.52,-0.021],[21.22,-0.007],[20.92,0.007],[20.62,-0.007],[20.47,0.045],[20.24,0.007],[19.94,-0.032],[19.64,0.007],[19.41,-0.007],[19.11,-0.032],[18.81,-0.007],[18.51,0.0],[18.21,0.014],[17.91,-0.007],[17.54,-0.023],[17.31,0.014],[17.01,0.023],[16.71,0.007],[16.41,-0.007],[16.11,0.007],[15.81,0.014],[15.51,0.01],[15.21,0.023],[14.83,0.014],[14.46,0.018],[14.08,0.007],[13.71,0.0],[13.26,-0.01],[12.81,-0.007],[12.36,-0.007],[11.91,-0.004],[11.46,-0.007],[11.01,-0.004],[10.56,-0.007],[10.11,-0.004]];
const uhZBand = [[34.7,0.02],[34.4,0.04],[34.1,-0.01],[33.8,0.02],[33.5,0.0],[33.2,0.01],[32.9,-0.01],[32.5,0.01],[32.2,0.03],[31.9,0.0],[31.6,-0.01],[31.4,0.03],[31.1,0.02],[30.9,-0.02],[30.7,0.01],[30.5,0.0],[30.3,-0.01],[30.0,0.02],[29.8,0.01],[29.5,-0.01],[29.3,0.02],[29.0,0.0],[28.8,-0.01],[28.6,0.03],[28.4,0.01],[28.1,0.02],[27.9,-0.01],[27.7,0.01],[27.5,0.03],[27.3,-0.01],[27.0,0.02],[26.8,0.01],[26.6,0.0],[26.4,0.03],[26.1,0.0],[25.9,0.02],[25.7,0.03],[25.5,0.0],[25.3,0.02],[25.1,0.01],[24.9,0.02],[24.7,0.0],[24.5,0.03],[24.3,0.01],[24.0,0.02],[23.8,0.0],[23.6,0.02],[23.4,0.01],[23.2,0.0],[23.0,0.015],[22.7,0.0],[22.5,0.01],[22.3,-0.005],[22.0,0.005],[21.7,-0.01],[21.4,0.0],[21.1,-0.012],[20.8,0.0],[20.5,0.01],[20.2,-0.01],[20.0,0.0],[19.7,-0.015],[19.5,-0.005],[19.2,-0.01],[19.0,0.0],[18.7,-0.015],[18.4,0.005],[18.1,-0.005],[17.8,0.0],[17.4,-0.01],[17.1,0.005],[16.9,0.0],[16.6,0.015],[16.3,0.005],[16.0,0.01],[15.7,0.005],[15.4,0.015],[15.1,0.01],[14.7,0.012],[14.3,0.01],[14.0,0.005],[13.6,-0.004],[13.3,-0.008],[13.0,-0.01],[12.6,-0.006],[12.2,-0.008],[11.8,-0.006],[11.3,-0.005],[10.9,-0.006],[10.4,-0.005]];

// tick labels
const irDistTicks = [50,45,40,35,30,25,20,15,10,5];
const uhDistTicks = [50,45,40,35,30,25,20,15,10];
const irErrTicks = [-1.0,-0.75,-0.5,-0.25,0,0.25,0.5,0.75];
const lowErrTicks = [-1.0,-0.5,0,0.5,1.0];
const uhErrTicks = [-0.8,-0.6,-0.4,-0.2,0,0.2,0.4,0.6,0.8];

const seriesNames = ['x error (m)', 'y error (m)', 'z error (m)'];
const seriesColors = ['#ff0000', '#008000', '#0000ff'];

const FONT = "'DejaVu Sans'";

function fmt(v, d) {
    const s = Math.abs(v).toFixed(d);
    return v < -1e-9 ? '\u2212' + s : s;
}

// grid on top of the points, box frame, title and legend, like matplotlib
const decor = {
    id: 'decor',
    afterDatasetsDraw(chart, args, opts) {
        const ctx = chart.ctx;
        const a = chart.chartArea;
        const sx = chart.scales.x, sy = chart.scales.y;
        ctx.save();
        ctx.strokeStyle = '#b0b0b0';
        ctx.lineWidth = 1;
        ctx.beginPath();
        sx.ticks.forEach(t => {
            const px = Math.round(sx.getPixelForValue(t.value)) + 0.5;
            ctx.moveTo(px, a.top); ctx.lineTo(px, a.bottom);
        });
        sy.ticks.forEach(t => {
            const py = Math.round(sy.getPixelForValue(t.value)) + 0.5;
            ctx.moveTo(a.left, py); ctx.lineTo(a.right, py);
        });
        ctx.stroke();

        ctx.strokeStyle = '#000';
        ctx.lineWidth = 1;
        ctx.strokeRect(Math.round(a.left) + 0.5, Math.round(a.top) + 0.5,
            Math.round(a.right - a.left), Math.round(a.bottom - a.top));

        ctx.fillStyle = '#000';
        ctx.font = '24px ' + FONT;
        ctx.textAlign = 'center';
        ctx.textBaseline = 'alphabetic';
        ctx.fillText(opts.title, (a.left + a.right) / 2, a.top - 8);

        // legend
        const bw = 225, bh = 118;
        const bx = Math.round(a.right - 13 - bw) + 0.5, by = Math.round(a.top + 13.5) + 0.5;
        ctx.beginPath();
        ctx.roundRect(bx, by, bw, bh, 5);
        ctx.fillStyle = 'rgba(255,255,255,0.8)';
        ctx.fill();
        ctx.strokeStyle = '#d6d6d6';
        ctx.stroke();
        ctx.textAlign = 'left';
        chart.data.datasets.forEach((ds, i) => {
            const cy = by + 21.8 + i * 37.5;
            ctx.fillStyle = ds.backgroundColor;
            ctx.beginPath();
            ctx.arc(bx + 35, cy, 2.7, 0, Math.PI * 2);
            ctx.fill();
            const parts = ds.label.split(' ');
            const v = parts.shift();
            ctx.fillStyle = '#000';
            ctx.font = 'italic 24px ' + FONT;
            ctx.fillText(v, bx + 80, cy + 4.7);
            const w = ctx.measureText(v).width;
            ctx.font = '24px ' + FONT;
            ctx.fillText(parts.join(' '), bx + 80 + w + 9.5, cy + 4.7);
        });
        ctx.restore();
    }
};

function makeChart(id, o) {
    return new Chart(document.getElementById(id), {
        type: 'scatter',
        data: {
            datasets: o.series.map((s, i) => ({
                label: seriesNames[i],
                data: s.map(p => ({x: p[0], y: p[1]})),
                backgroundColor: seriesColors[i],
                borderWidth: 0,
                pointRadius: 3.3,
                order: 3 - i
            }))
        },
        options: {
            responsive: true,
            maintainAspectRatio: false,
            animation: false,
            events: [],
            layout: {padding: {top: o.top, right: o.right, left: 0, bottom: 0}},
            plugins: {
                legend: {display: false},
                tooltip: {enabled: false},
                decor: {title: o.title}
            },
            scales: {
                x: {
                    type: 'linear',
                    reverse: true,
                    min: o.xMin,
                    max: o.xMax,
                    afterBuildTicks: s => { s.ticks = o.xTicks.map(v => ({value: v})); },
                    afterFit: s => { s.height = o.xAxisH; },
                    grid: {drawOnChartArea: false, tickLength: 6, tickColor: '#000', tickWidth: 1},
                    border: {display: false},
                    ticks: {
                        color: '#000', font: {family: FONT, size: 24}, padding: 4,
                        maxRotation: 0, autoSkip: false, callback: v => String(v)
                    },
                    title: {
                        display: true, text: 'Distance from tanker (m)', color: '#000',
                        font: {family: FONT, size: 24}, padding: {top: 0, bottom: o.xTitlePad}
                    }
                },
                y: {
                    type: 'linear',
                    min: o.yMin,
                    max: o.yMax,
                    afterBuildTicks: s => { s.ticks = o.yTicks.map(v => ({value: v})); },
                    afterFit: s => { s.width = o.left; },
                    grid: {drawOnChartArea: false, tickLength: 6, tickColor: '#000', tickWidth: 1},
                    border: {display: false},
                    ticks: {
                        color: '#000', font: {family: FONT, size: 24}, padding: 6,
                        autoSkip: false, callback: v => fmt(v, o.dec)
                    },
                    title: {
                        display: true, text: 'Position estimation error (m)', color: '#000',
                        font: {family: FONT, size: 24}, padding: {top: 7, bottom: 0}
                    }
                }
            }
        },
        plugins: [decor]
    });
}

makeChart('c1', {
    title: 'IR Cameras Approach 1',
    series: [irX, irY, irZ],
    xMin: 5, xMax: 50, xTicks: irDistTicks,
    yMin: -1.138, yMax: 0.8125, yTicks: irErrTicks, dec: 2,
    left: 127, right: 13, top: 33.7, xAxisH: 75, xTitlePad: 8
});

makeChart('c2', {
    title: 'Low Resolution Cameras Approach 1',
    series: [lowX, lowY, lowZ],
    xMin: 5, xMax: 50, xTicks: irDistTicks,
    yMin: -1.255, yMax: 1.398, yTicks: lowErrTicks, dec: 1,
    left: 111, right: 13, top: 34.7, xAxisH: 74.3, xTitlePad: 7
});

makeChart('c3', {
    title: 'Ultra-high Resolution Cameras Approach 1',
    series: [uhX.concat(uhXBand), uhY.concat(uhYBand), uhZ.concat(uhZBand)],
    xMin: 10, xMax: 50, xTicks: uhDistTicks,
    yMin: -0.8, yMax: 0.8, yTicks: uhErrTicks, dec: 1,
    left: 111, right: 21, top: 36, xAxisH: 69.3, xTitlePad: 2
});
</script>
</body>
</html>
